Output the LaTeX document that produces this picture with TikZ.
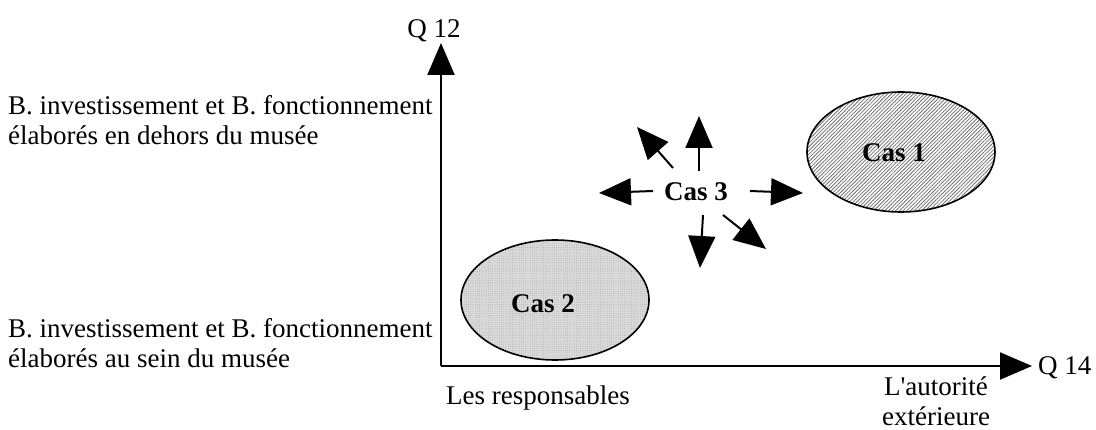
\documentclass[tikz,border=0pt]{standalone}
\usepackage{fontspec}
\setmainfont{Liberation Serif}
\usetikzlibrary{arrows.meta,shapes.geometric,patterns.meta}
\newcommand\straightquote{\XeTeXglyph\XeTeXcharglyph"0027\relax}
\begin{document}
\begin{tikzpicture}[x=1pt,y=-1pt,
  axis/.style={line width=2pt,-{Triangle[length=32pt,width=27pt]}},
  sprout/.style={line width=2pt,-{Triangle[length=32pt,width=27pt]}},
  lbl/.style={inner sep=0pt,font=\fontsize{27}{30}\selectfont},
  caslbl/.style={inner sep=0pt,font=\fontsize{27}{30}\selectfont\bfseries},
  casellipse/.style={ellipse,draw,line width=1.6pt,inner sep=0pt,
    minimum width=188pt,minimum height=120pt}
]
\useasboundingbox (0,0) rectangle (1096,430);

% axes
\coordinate (O) at (441,366);
\coordinate (ytop) at (441,43);
\coordinate (xend) at (1032,366);
\draw[axis] (O) -- (ytop);
\draw[axis] (O) -- (xend);

% axis labels
\node[lbl,anchor=base] (q12) at (434,38) {Q 12};
\node[lbl,anchor=base west] (q14) at (1038,375) {Q 14};
\node[lbl,anchor=base west] (resp) at (446,405) {Les responsables};
\node[lbl,anchor=north,align=center] (aut) at (936,377)
  {L\straightquote autorité\\extérieure};

\node[lbl,anchor=north west,align=left] (top) at (8,95)
  {B. investissement et B. fonctionnement\\élaborés en dehors du musée};
\node[lbl,anchor=north west,align=left] (bot) at (8,318)
  {B. investissement et B. fonctionnement\\élaborés au sein du musée};

% cases
\node[casellipse,
  preaction={fill=white},
  pattern={Lines[distance=2.6pt,angle=45,line width=0.8pt]},pattern color=black!55]
  (cas1) at (901,152) {};
\node[caslbl] (cas1t) at (894,153) {Cas 1};

\node[casellipse,
  preaction={fill=black!14},
  pattern={Dots[distance=2.2pt,radius=0.45pt]},pattern color=black!35]
  (cas2) at (555,300) {};
\node[caslbl] (cas2t) at (543,304) {Cas 2};

\node[caslbl] (cas3) at (696,192) {Cas 3};

% arrows around Cas 3
\coordinate (t1) at (699,171); \coordinate (h1) at (699,116);
\coordinate (t2) at (673,168); \coordinate (h2) at (637,127);
\coordinate (t3) at (653,191); \coordinate (h3) at (599,193);
\coordinate (t4) at (750,191); \coordinate (h4) at (803,193);
\coordinate (t5) at (703,215); \coordinate (h5) at (700,268);
\coordinate (t6) at (723,215); \coordinate (h6) at (766,249);
\foreach \i in {1,...,6}{\draw[sprout] (t\i) -- (h\i);}
\end{tikzpicture}
\end{document}
